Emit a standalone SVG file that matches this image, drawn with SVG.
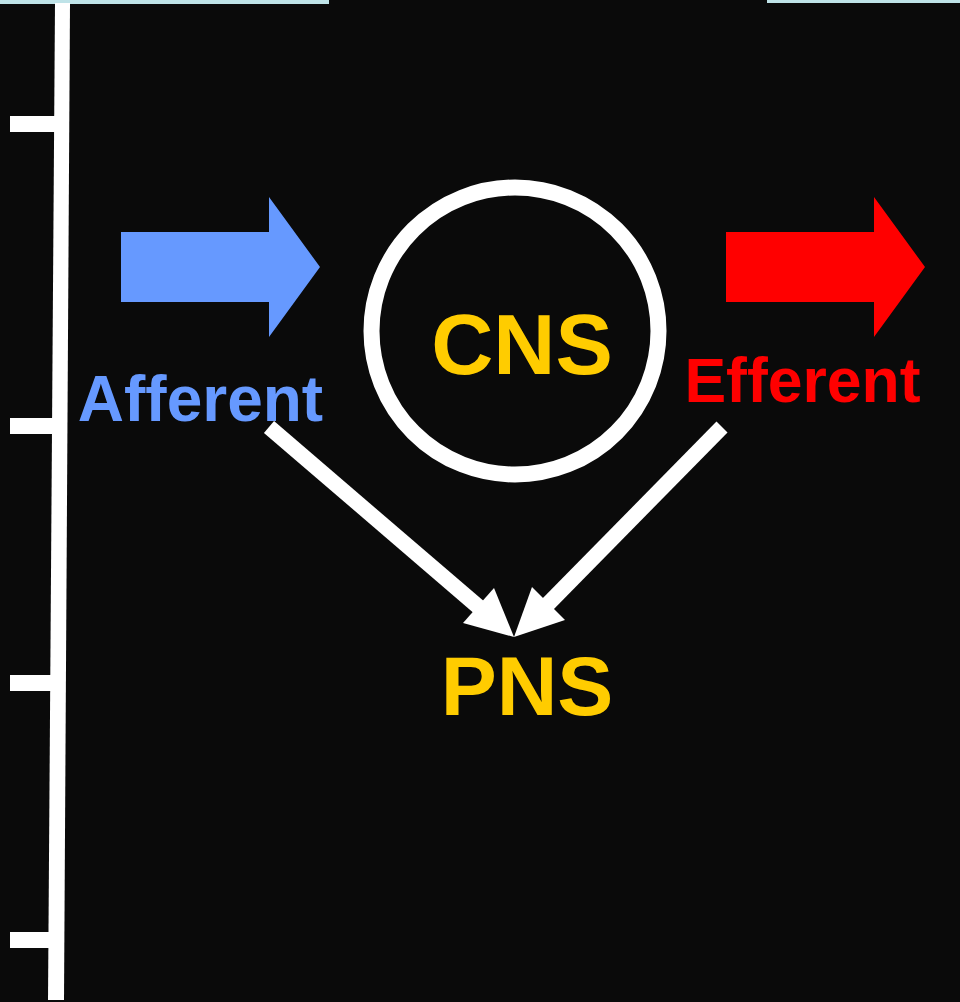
<svg xmlns="http://www.w3.org/2000/svg" width="960" height="1002" viewBox="0 0 960 1002">
<style>
.lbl{font-family:"Liberation Sans",Arial,sans-serif;font-weight:bold;text-anchor:middle}
.gold{fill:#FFCC00}
.wl{stroke:#FFFFFF;stroke-width:15.5;fill:none;stroke-linecap:butt}
.wh{fill:#FFFFFF}
</style>
<rect x="0" y="0" width="960" height="1002" fill="#0A0A0A"/>
<rect x="0" y="0" width="329" height="4" fill="#BFE3E8"/>
<rect x="767" y="0" width="193" height="3" fill="#BFE3E8"/>
<g id="axis">
<polygon points="55,3 70,3 64,1000 48,1000" fill="#FFFFFF"/>
<rect x="10" y="116" width="48" height="16" fill="#FFFFFF"/>
<rect x="10" y="418" width="45" height="16" fill="#FFFFFF"/>
<rect x="10" y="675" width="44" height="16" fill="#FFFFFF"/>
<rect x="10" y="932" width="42" height="16" fill="#FFFFFF"/>
</g>
<g id="afferent">
<polygon points="121,232 269,232 269,197 320,267 269,337 269,302 121,302" fill="#6699FF"/>
<text class="lbl" x="200.5" y="420.5" font-size="64" fill="#6699FF">Afferent</text>
</g>
<g id="efferent">
<polygon points="726,232 874,232 874,197 925,267 874,337 874,302 726,302" fill="#FF0000"/>
<text class="lbl" x="802.5" y="401.5" font-size="62.5" fill="#FF0000">Efferent</text>
</g>
<g id="cns">
<circle cx="515" cy="331" r="143.5" fill="none" stroke="#FFFFFF" stroke-width="16"/>
<text class="lbl gold" x="522" y="374" font-size="86">CNS</text>
</g>
<g id="pns">
<text class="lbl gold" x="527" y="715" font-size="84">PNS</text>
</g>
<g id="connectors">
<line class="wl" x1="269" y1="427" x2="481" y2="609"/>
<polygon class="wh" points="514,637 463,623 494,588"/>
<line class="wl" x1="722" y1="427" x2="545" y2="607"/>
<polygon class="wh" points="514,637 532,587 565,620"/>
</g>
</svg>
